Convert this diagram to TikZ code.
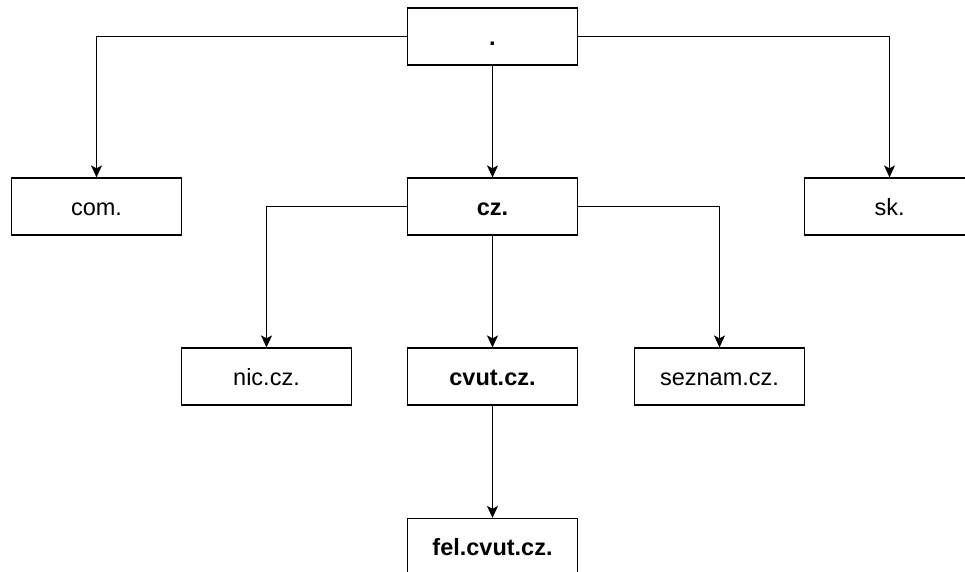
\documentclass[tikz,border=0pt]{standalone}
\usepackage{fontspec}
\setmainfont{Liberation Sans}
\usetikzlibrary{arrows.meta}
\begin{document}
\begin{tikzpicture}[x=1pt,y=-1pt,
  box/.style={draw=black, line width=1.2pt, minimum width=170pt, minimum height=57pt, inner sep=0pt, text height=19.5pt, text depth=2.5pt, font=\fontsize{23.5}{28}\selectfont, fill=white},
  conn/.style={draw=black, line width=1.2pt, -{Stealth[length=12pt,width=11pt,inset=3pt]}}]
\useasboundingbox (0,0) rectangle (965,571);
\node[box] (root) at (492.5,36.5) {\textbf{.}};
\node[box] (com) at (96.5,206.5) {com.};
\node[box] (cz) at (492.5,206.5) {\textbf{cz.}};
\node[box] (sk) at (889.5,206.5) {sk.};
\node[box] (nic) at (266.5,376.5) {nic.cz.};
\node[box] (cvut) at (492.5,376.5) {\textbf{cvut.cz.}};
\node[box] (seznam) at (719.5,376.5) {seznam.cz.};
\node[box] (fel) at (492.5,547) {\textbf{fel.cvut.cz.}};
\draw[conn] (root.west) -| (com.north);
\draw[conn] (root.east) -| (sk.north);
\draw[conn] (root.south) -- (cz.north);
\draw[conn] (cz.west) -| (nic.north);
\draw[conn] (cz.east) -| (seznam.north);
\draw[conn] (cz.south) -- (cvut.north);
\draw[conn] (cvut.south) -- (fel.north);
\end{tikzpicture}
\end{document}
